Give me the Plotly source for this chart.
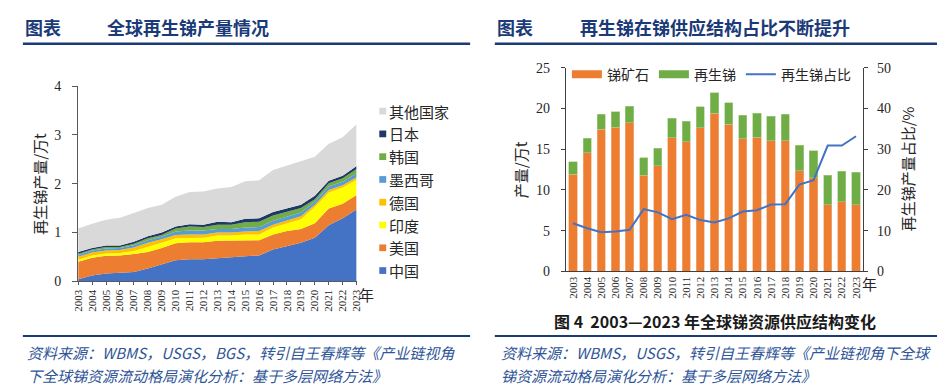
import plotly.graph_objects as go

W, H = 945, 386
def px(x): return x / W
def py(y): return 1 - y / H

# ---------------- data ----------------
years = list(range(2003, 2024))
year_labels = [str(y) for y in years]

# left chart: recycled antimony production by country (10k t)
china   = [0.04,0.12,0.16,0.17,0.19,0.26,0.34,0.43,0.45,0.45,0.47,0.49,0.50,0.53,0.65,0.72,0.79,0.89,1.15,1.29,1.47]
usa     = [0.36,0.36,0.36,0.36,0.37,0.34,0.34,0.35,0.35,0.35,0.36,0.34,0.34,0.31,0.31,0.31,0.28,0.30,0.34,0.30,0.30]
india   = [0.04,0.05,0.05,0.05,0.06,0.10,0.11,0.10,0.09,0.09,0.11,0.11,0.12,0.12,0.14,0.15,0.20,0.33,0.33,0.33,0.31]
germany = [0.06,0.06,0.06,0.06,0.07,0.09,0.07,0.07,0.07,0.07,0.06,0.06,0.06,0.07,0.06,0.06,0.06,0.05,0.05,0.05,0.05]
mexico  = [0.04,0.04,0.04,0.04,0.05,0.05,0.05,0.07,0.08,0.08,0.07,0.07,0.08,0.08,0.08,0.08,0.08,0.06,0.07,0.07,0.08]
korea   = [0.02,0.02,0.03,0.02,0.03,0.04,0.04,0.06,0.08,0.07,0.09,0.09,0.11,0.11,0.11,0.10,0.09,0.05,0.07,0.07,0.09]
japan   = [0.04,0.03,0.03,0.03,0.04,0.04,0.05,0.04,0.05,0.05,0.06,0.05,0.07,0.07,0.07,0.07,0.07,0.07,0.05,0.05,0.06]
others  = [0.48,0.50,0.53,0.57,0.59,0.58,0.57,0.61,0.66,0.68,0.68,0.72,0.77,0.78,0.86,0.88,0.88,0.80,0.76,0.79,0.86]

country_names  = ["中国", "美国", "印度", "德国", "墨西哥", "韩国", "日本", "其他国家"]
country_series = [china, usa, india, germany, mexico, korea, japan, others]
country_colors = ["#4472C4", "#ED7D31", "#FFFF00", "#FFC000", "#5B9BD5", "#70AD47", "#1F3864", "#D9D9D9"]

# right chart: antimony supply structure
ore_total = [13.46,16.38,19.29,19.60,20.30,13.98,15.12,18.78,18.46,20.20,21.97,20.70,19.17,19.41,19.06,19.29,15.51,14.80,11.81,12.28,12.17]
ore       = [11.93,14.60,17.44,17.72,18.27,11.81,12.95,16.42,15.91,17.64,19.41,18.07,16.30,16.46,16.02,16.06,12.36,11.50, 8.19, 8.58, 8.19]
recycled  = [round(t - o, 2) for t, o in zip(ore_total, ore)]
share     = [11.8,10.6,9.6,9.8,10.2,15.3,14.5,12.8,13.9,12.6,12.0,13.0,14.7,15.0,16.4,16.5,21.3,22.4,30.9,30.9,33.2]

left_yticks = [0, 1, 2, 3, 4]
right_yticks = [0, 5, 10, 15, 20, 25]
share_ticks = [0, 10, 20, 30, 40, 50]

# ---------------- figure ----------------
fig = go.Figure()

for name, vals, col in zip(country_names, country_series, country_colors):
    fig.add_trace(go.Scatter(
        x=years, y=vals, name=name, stackgroup="one", mode="lines",
        line=dict(width=0, color=col), fillcolor=col, showlegend=False,
        xaxis="x", yaxis="y", hoverinfo="x+y+name"))

fig.add_trace(go.Bar(x=year_labels, y=ore, name="锑矿石", marker=dict(color="#ED7D31", line=dict(width=0.6, color="#F4B183")),
                     xaxis="x2", yaxis="y2", showlegend=False))
fig.add_trace(go.Bar(x=year_labels, y=recycled, name="再生锑", marker=dict(color="#70AD47", line=dict(width=0.6, color="#A9D18E")),
                     xaxis="x2", yaxis="y2", showlegend=False))
fig.add_trace(go.Scatter(x=year_labels, y=share, name="再生锑占比", mode="lines",
                         line=dict(color="#4472C4", width=2), xaxis="x2", yaxis="y3", showlegend=False))

# legend proxies for right chart (wide swatches)
fig.add_trace(go.Scatter(x=[None], y=[None], name="锑矿石", mode="lines", line=dict(color="#ED7D31", width=8),
                         xaxis="x2", yaxis="y2"))
fig.add_trace(go.Scatter(x=[None], y=[None], name="再生锑", mode="lines", line=dict(color="#70AD47", width=8),
                         xaxis="x2", yaxis="y2"))
fig.add_trace(go.Scatter(x=[None], y=[None], name="再生锑占比", mode="lines", line=dict(color="#4472C4", width=2),
                         xaxis="x2", yaxis="y2"))

serif = "Liberation Serif, Times New Roman, serif"
axis_col = "#595959"
tick_font = dict(family=serif, size=14, color="#262626")
year_font = dict(family=serif, size=11, color="#262626")

fig.update_layout(
    width=W, height=H,
    margin=dict(l=0, r=0, t=0, b=0),
    paper_bgcolor="white", plot_bgcolor="white",
    font=dict(family="Noto Sans CJK SC", color="#262626"),
    barmode="stack", bargap=0.42,
    showlegend=True,
    legend=dict(orientation="h", x=px(560), y=py(62), xanchor="left", yanchor="middle",
                font=dict(size=14, color="#262626"), bgcolor="rgba(0,0,0,0)",
                itemwidth=30, tracegroupgap=0, traceorder="normal"),
    xaxis=dict(domain=[px(65), px(347)], range=[2003, 2023], tickvals=years, ticktext=year_labels,
               tickangle=-90, tickfont=year_font, showline=True, linecolor=axis_col, linewidth=1,
               ticks="outside", ticklen=3, tickcolor=axis_col, showgrid=False, zeroline=False,
               anchor="y", fixedrange=True),
    yaxis=dict(domain=[py(277), py(74)], range=[0, 4], tickvals=left_yticks, tickfont=tick_font,
               showline=True, linecolor=axis_col, linewidth=1, ticks="outside", ticklen=5,
               tickcolor=axis_col, showgrid=False, zeroline=False, anchor="x", ticklabelstandoff=8),
    xaxis2=dict(domain=[px(559), px(860)], type="category", tickangle=-90, tickfont=year_font,
                showline=True, linecolor="#404040", linewidth=1, ticks="", showgrid=False,
                zeroline=False, anchor="y2"),
    yaxis2=dict(domain=[py(266.7), py(55)], range=[0, 25], tickvals=right_yticks, tickfont=tick_font,
                showline=True, linecolor="#404040", linewidth=1, ticks="outside", ticklen=4,
                tickcolor="#404040", showgrid=False, zeroline=False, anchor="x2", ticklabelstandoff=8),
    yaxis3=dict(range=[0, 50], tickvals=share_ticks, tickfont=tick_font, overlaying="y2", side="right",
                anchor="x2", showline=True, linecolor="#404040", linewidth=1, ticks="outside", ticklen=4,
                tickcolor="#404040", showgrid=False, zeroline=False, ticklabelstandoff=6),
)

hdr_col = "#1B3A78"
src_col = "#2F5597"
shapes = [
    dict(type="line", xref="paper", yref="paper", x0=px(9), x1=px(462), y0=py(30), y1=py(30),
         line=dict(color=hdr_col, width=2.5)),
    dict(type="line", xref="paper", yref="paper", x0=px(487), x1=px(940), y0=py(30), y1=py(30),
         line=dict(color=hdr_col, width=2.5)),
    dict(type="line", xref="paper", yref="paper", x0=px(9), x1=px(462), y0=py(334), y1=py(334),
         line=dict(color=hdr_col, width=2)),
    dict(type="line", xref="paper", yref="paper", x0=px(487), x1=px(940), y0=py(334), y1=py(334),
         line=dict(color=hdr_col, width=2)),
]

annotations = []
def ann(text, x, y, size, color="#262626", xanchor="left", yanchor="middle", angle=0, family=None):
    d = dict(text=text, x=px(x), y=py(y), xref="paper", yref="paper", showarrow=False,
             xanchor=xanchor, yanchor=yanchor, textangle=angle,
             font=dict(size=size, color=color))
    if family:
        d["font"]["family"] = family
    annotations.append(d)

# headers
ann("<b>图表</b>", 9, 13, 18, hdr_col)
ann("<b>全球再生锑产量情况</b>", 92, 13, 18, hdr_col)
ann("<b>图表</b>", 487, 13, 18, hdr_col)
ann("<b>再生锑在锑供应结构占比不断提升</b>", 571, 13, 18, hdr_col)

# custom legend for left chart (top: 其他国家 ... bottom: 中国)
for i, (name, col) in enumerate(zip(country_names[::-1], country_colors[::-1])):
    yc = 100 + i * 23.7
    shapes.append(dict(type="rect", xref="paper", yref="paper", x0=px(370), x1=px(377),
                       y0=py(yc + 3.5), y1=py(yc - 3.5), fillcolor=col, line=dict(width=0)))
    ann(name, 378, yc, 15, "#262626")

# axis titles
ann("再生锑产量/万t", 25, 176, 15, "#262626", xanchor="center", angle=-90)
ann("产量/万t", 513, 161, 15, "#262626", xanchor="center", angle=-90)
ann("再生锑产量占比/%", 905, 160, 15, "#262626", xanchor="center", angle=-90)
ann("年", 357, 291, 15, "#262626", xanchor="center")
ann("年", 867, 279, 15, "#262626", xanchor="center")

# caption right
ann("<b>图 4  2003—2023 年全球锑资源供应结构变化</b>", 710, 318, 16, "#1a1a1a", xanchor="center")

# sources
src_l1 = "资料来源：WBMS，USGS，BGS，转引自王春辉等《产业链视角"
src_l2 = "下全球锑资源流动格局演化分析：基于多层网络方法》"
src_r1 = "资料来源：WBMS，USGS，转引自王春辉等《产业链视角下全球"
src_r2 = "锑资源流动格局演化分析：基于多层网络方法》"
ann("<i>" + src_l1 + "</i>", 11, 351, 15, src_col)
ann("<i>" + src_l2 + "</i>", 11, 375, 15, src_col)
ann("<i>" + src_r1 + "</i>", 491, 351, 15, src_col)
ann("<i>" + src_r2 + "</i>", 491, 375, 15, src_col)

fig.update_layout(shapes=shapes, annotations=annotations)

fig.write_html("out.html")
